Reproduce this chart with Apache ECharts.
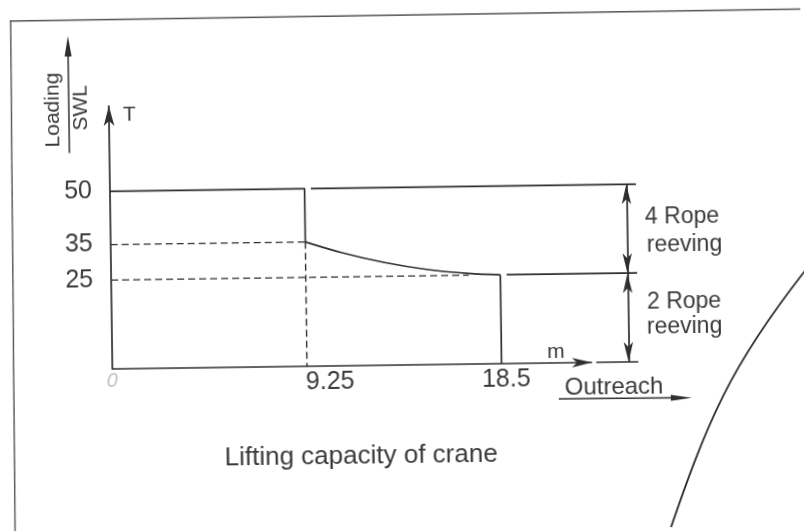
<!DOCTYPE html>
<html><head><meta charset="utf-8">
<script src="https://cdn.jsdelivr.net/npm/echarts@6/dist/echarts.min.js"></script>
<style>
html,body{margin:0;padding:0;background:#fff;overflow:hidden}
#c{width:804px;height:531px;transform:rotate(-0.78deg);transform-origin:402px 265.5px}
</style>
</head><body><div id="c"></div>
<script>
// ---- data ----
const yTickValues = [25, 35, 50];          // T
const xTickValues = [0, 9.25, 18.5];       // m
const swl4Rope = 50;                       // 4 rope reeving SWL (T)
const swlAtBreak = 35;                     // load at 9.25 m
const swl2Rope = 25;                       // 2 rope reeving SWL (T)
const outreach4Rope = 9.25;                // m
const outreach2Rope = 18.5;                // m
const curveOutreach = [9.25, 11.0, 13.0, 15.0, 17.0, 18.5];
const curveLoad     = [35, 31.8, 28.9, 26.8, 25.5, 25];
const axisXMax = 25, axisYMax = 74;
const xArrowEnd = 22.8, xAxisTailStart = 23.0;
const dimX = 24.54;
const ext50Start = 9.55, ext25Start = 18.8, dash25End = 17;

const NUMF = "'Liberation Sans',Arial,sans-serif";
const REG = "'Liberation Sans',Arial,sans-serif";
const LINE = '#2f2f2f';
const TXT = '#3a3a3a';
const solid = {color: LINE, width: 1.7, type: 'solid'};
const dashed = {color: LINE, width: 1.4, type: [7, 4]};

function seg(name, pts, style, extra) {
  return Object.assign({type: 'line', name, data: pts, symbol: 'none', lineStyle: style,
    silent: true, animation: false, emphasis: {disabled: true}, z: 3}, extra || {});
}
const curveData = curveOutreach.map((x, i) => [x, curveLoad[i]]);

function txt(text, x, y, size, family, extra) {
  return Object.assign({type: 'text', x, y, silent: true,
    style: {text, fontSize: size, fontFamily: family, fill: TXT, align: 'left', verticalAlign: 'middle'}}, extra || {});
}

const chart = echarts.init(document.getElementById('c'));
chart.setOption({
  animation: false,
  backgroundColor: '#fff',
  grid: {left: 111, right: 167, top: 102, bottom: 166},
  xAxis: {
    type: 'value', min: 0, max: axisXMax,
    splitLine: {show: false}, axisTick: {show: false}, axisLine: {show: false},
    axisLabel: {
      customValues: xTickValues, margin: 4,
      formatter: v => v === 0 ? '{z|0}' : (v === outreach4Rope ? '{s|' + v + '}' : '{n|' + v + '}'),
      rich: {
        z: {fontFamily: 'DejaVu Sans', fontStyle: 'italic', fontSize: 19, color: '#c4c4c4'},
        s: {fontFamily: NUMF, fontSize: 25, color: TXT, padding: [0, 0, 0, 46]},
        n: {fontFamily: NUMF, fontSize: 25, color: TXT, padding: [0, 0, 0, 9]}
      }
    }
  },
  yAxis: {
    type: 'value', min: 0, max: axisYMax,
    splitLine: {show: false}, axisTick: {show: false},
    axisLine: {show: true, onZero: false, symbol: ['none', 'arrow'], symbolSize: [8, 20],
      lineStyle: {color: LINE, width: 1.7}},
    axisLabel: {customValues: yTickValues, margin: 18, fontFamily: NUMF, fontSize: 25, color: TXT}
  },
  series: [
    seg('4 rope limit', [[0, swl4Rope], [outreach4Rope, swl4Rope], [outreach4Rope, swlAtBreak]], solid),
    seg('capacity curve', curveData, solid, {smooth: 0.35}),
    seg('2 rope limit', [[outreach2Rope, swl2Rope], [outreach2Rope, 0]], solid),
    seg('dash 35', [[0, swlAtBreak], [outreach4Rope, swlAtBreak]], dashed),
    seg('dash 25', [[0, swl2Rope], [dash25End, swl2Rope]], dashed),
    seg('dash 9.25', [[outreach4Rope, swlAtBreak], [outreach4Rope, 0]], dashed),
    seg('ext 50', [[ext50Start, swl4Rope], [axisXMax, swl4Rope]], solid),
    seg('ext 25', [[ext25Start, swl2Rope], [axisXMax, swl2Rope]], solid),
    seg('axis tail', [[xAxisTailStart, 0], [axisXMax, 0]], solid, {
      clip: false,
      markLine: {
        silent: true, animation: false, symbolSize: [7, 20], label: {show: false},
        emphasis: {disabled: true},
        lineStyle: {color: LINE, width: 1.7, type: 'solid'},
        data: [
          [{coord: [0, 0], symbol: 'none'}, {coord: [xArrowEnd, 0], symbol: 'arrow'}],
          [{coord: [dimX, swl4Rope], symbol: 'arrow'}, {coord: [dimX, swl2Rope], symbol: 'arrow'}],
          [{coord: [dimX, swl2Rope], symbol: 'arrow'}, {coord: [dimX, 0], symbol: 'arrow'}]
        ]
      }
    })
  ],
  graphic: {elements: [
    // page frame + arc (scan decoration)
    {type: 'line', silent: true, shape: {x1: 13, y1: 15.7, x2: 812, y2: 14.5}, style: {stroke: '#555', lineWidth: 1.4}},
    {type: 'line', silent: true, shape: {x1: 14, y1: 15.7, x2: 11.4, y2: 545}, style: {stroke: '#555', lineWidth: 1.4}},
    {type: 'bezierCurve', silent: true,
      shape: {x1: 810, y1: 270, cpx1: 727.8, cpy1: 370.8, cpx2: 705.7, cpy2: 423.5, x2: 662, y2: 546},
      style: {stroke: '#2a2a2a', lineWidth: 1.8, fill: null}},
    // Loading / SWL arrow
    {type: 'line', silent: true, shape: {x1: 71, y1: 148.5, x2: 71, y2: 50}, style: {stroke: LINE, lineWidth: 1.5}},
    {type: 'polygon', silent: true, shape: {points: [[71, 31.5], [67.5, 52], [74.5, 52]]}, style: {fill: LINE}},
    txt('Loading', 55.5, 105.3, 21, REG, {rotation: Math.PI / 2, style: {text: 'Loading', fontSize: 21, fontFamily: REG, fill: TXT, align: 'center', verticalAlign: 'middle'}}),
    txt('SWL', 83, 103.5, 21, REG, {rotation: Math.PI / 2, style: {text: 'SWL', fontSize: 21, fontFamily: REG, fill: TXT, align: 'center', verticalAlign: 'middle'}}),
    txt('T', 125, 111, 21, REG),
    txt('m', 546, 354, 21, REG),
    txt('Outreach', 563, 390, 24, REG),
    {type: 'line', silent: true, shape: {x1: 557, y1: 401, x2: 672, y2: 401.5}, style: {stroke: LINE, lineWidth: 1.5}},
    {type: 'polygon', silent: true, shape: {points: [[690, 401.8], [669, 398.6], [669, 404.6]]}, style: {fill: LINE}},
    txt('4 Rope', 645.6, 221, 23, REG),
    txt('reeving', 647, 249, 23, REG),
    txt('2 Rope', 646.5, 306, 23, REG),
    txt('reeving', 646, 331, 23, REG),
    txt('Lifting capacity of crane', 222, 456, 26, REG)
  ]}
});
</script>
</body></html>
